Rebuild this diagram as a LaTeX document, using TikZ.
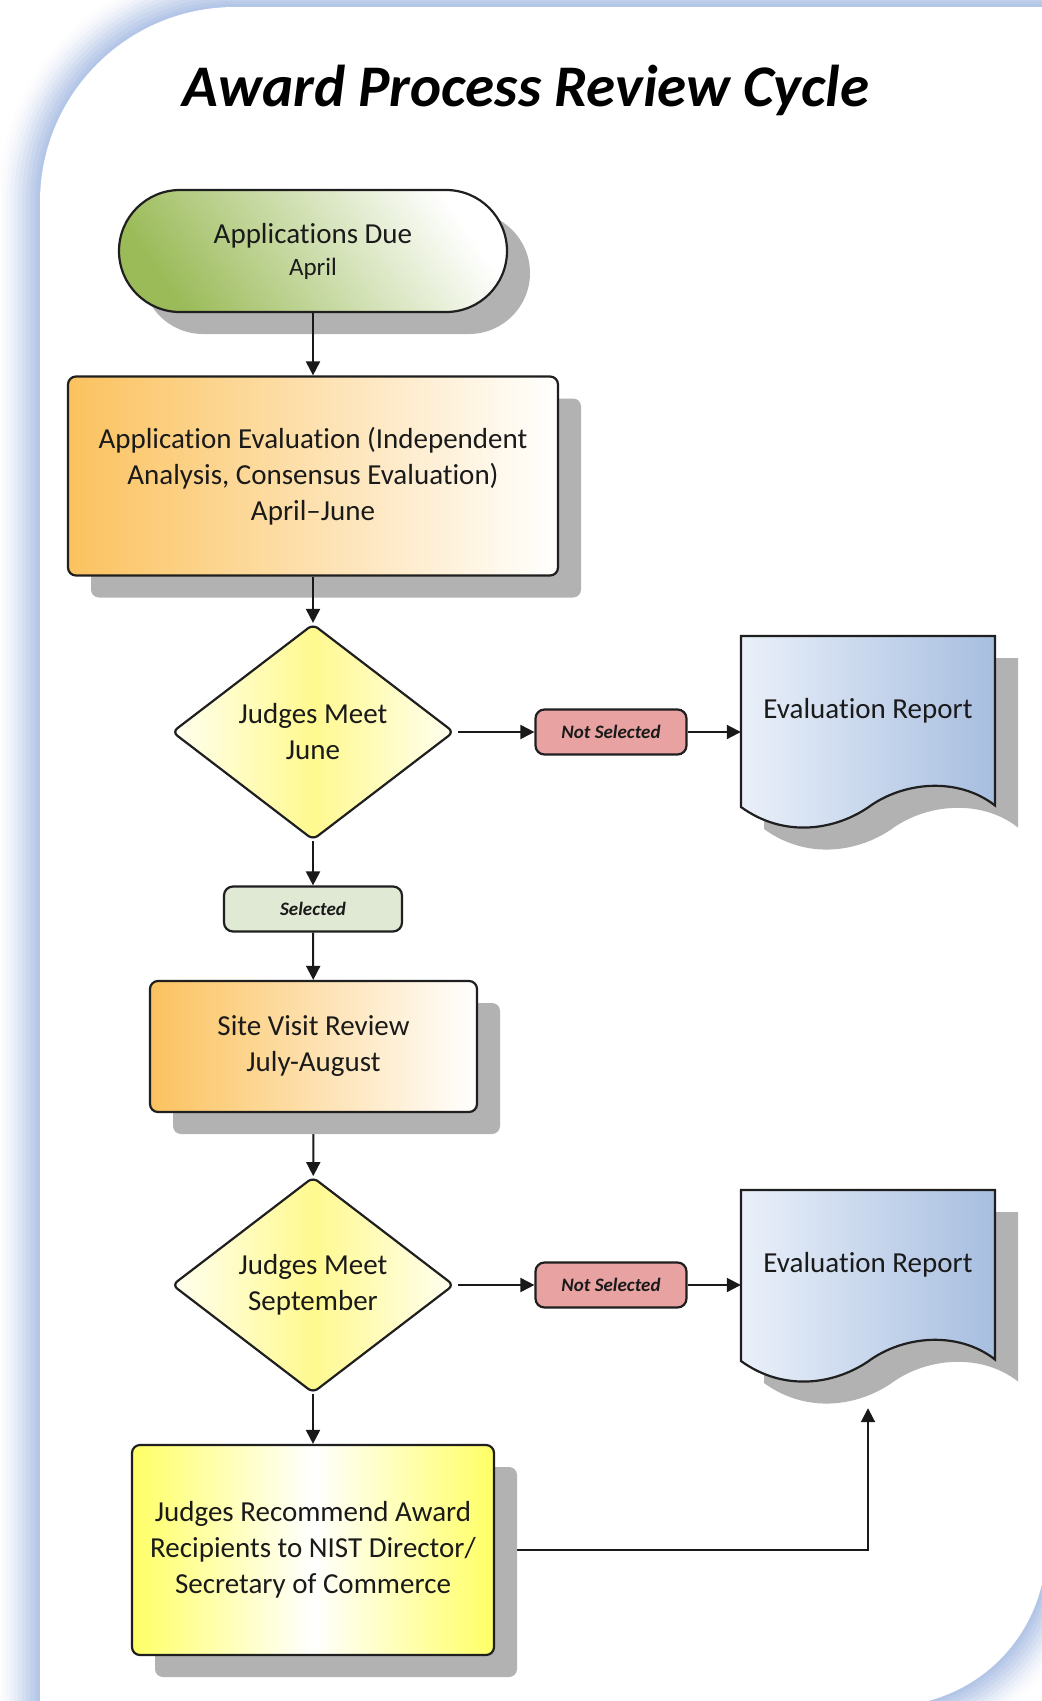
\documentclass[tikz,border=0pt]{standalone}
\usepackage{fontspec}
\setmainfont{Carlito}[Ligatures={NoCommon,NoRare}]
\usetikzlibrary{shapes.geometric,arrows.meta,shadows,calc}
\definecolor{glowblue}{HTML}{B4C6E7}
\definecolor{termgreen}{HTML}{9BBB59}
\definecolor{boxorange}{HTML}{FBC25E}
\definecolor{diayellow}{HTML}{FFF98F}
\definecolor{diaedge}{HTML}{FFFFF0}
\definecolor{recyellow}{HTML}{FFFF66}
\definecolor{docblue}{HTML}{A7BEE0}
\definecolor{doclight}{HTML}{EAF0F9}
\definecolor{nspink}{HTML}{E8A2A2}
\definecolor{selgreen}{HTML}{E0E9D3}
\definecolor{shadowgray}{HTML}{B2B2B2}
\definecolor{inkc}{HTML}{1A1A1A}
\pgfdeclarelayer{panel}
\pgfdeclarelayer{under}
\pgfdeclarelayer{docs}
\pgfsetlayers{panel,under,docs,main}
\tikzset{
  basefont/.style={font=\fontsize{29}{36}\selectfont},
  ink/.style={text=inkc},
  outline/.style={draw=black!88, line width=2.2pt},
  shad/.style={drop shadow={shadow xshift=23pt, shadow yshift=-22pt, fill=shadowgray, opacity=1}},
  terminal/.style={outline, shad, ink, basefont, rounded corners=61pt, minimum width=388pt, minimum height=122pt, align=center, inner sep=0pt, top color=white, bottom color=termgreen, shading angle=-55},
  process/.style={outline, shad, ink, basefont, rounded corners=8pt, align=center, inner sep=0pt, left color=boxorange, right color=white},
  decision/.style={diamond, aspect=1.3, outline, ink, basefont, rounded corners=6pt, minimum width=282pt, minimum height=216pt, inner sep=0pt, align=center, left color=diaedge, right color=diaedge, middle color=diayellow},
  recbox/.style={outline, shad, ink, basefont, rounded corners=8pt, align=center, inner sep=0pt, minimum width=362pt, minimum height=210pt, left color=recyellow, right color=recyellow, middle color=white},
  tag/.style={outline, ink, rounded corners=9pt, minimum width=151pt, minimum height=45pt, inner sep=0pt, font=\fontsize{19}{22}\selectfont\bfseries\itshape},
  doctext/.style={ink, basefont, minimum width=254pt, minimum height=171pt, inner sep=0pt, text height=20pt, text depth=26pt},
  docshape/.style={outline, left color=doclight, right color=docblue},
  docshadow/.style={fill=shadowgray},
  link/.style={draw=black!90, line width=2pt, -{Triangle[length=14pt,width=14pt]}},
}
\begin{document}
\begin{tikzpicture}[x=1pt,y=-1pt]
\useasboundingbox (0,0) rectangle (1042,1701);
\begin{pgfonlayer}{panel}
  \clip (0,0) rectangle (1042,1701);
  \fill[white] (0,0) rectangle (1042,1701);
  \foreach \w/\p in {84/3, 76/8, 68/15, 60/24, 52/34, 44/46, 36/58, 28/70, 20/82, 12/92, 6/100}{
    \draw[line width=\w pt, glowblue!\p!white] (40,1706) -- (40,202) arc[start angle=180,end angle=270,radius=195] -- (1046,7) -- (1046,1548) arc[start angle=0,end angle=90,radius=158] -- cycle;
  }
  \fill[white] (40,1706) -- (40,202) arc[start angle=180,end angle=270,radius=195] -- (1046,7) -- (1046,1548) arc[start angle=0,end angle=90,radius=158] -- cycle;
\end{pgfonlayer}

\node[font=\fontsize{59}{70}\selectfont\bfseries\itshape, text=black, anchor=base] (title) at (526,106) {Award Process Review Cycle};

\node[terminal] (due) at (313,251) {\rule{0pt}{3pt}Applications Due\\[-4pt]{\fontsize{25}{36}\selectfont April}};
\node[process, minimum width=490pt, minimum height=199pt] (eval) at (313,476) {Application Evaluation (Independent\\Analysis, Consensus Evaluation)\\April–June};
\node[decision] (meet1) at (313,732) {Judges Meet\\June};
\node[tag, fill=nspink] (ns1) at (611,732) {Not Selected};
\node[doctext] (rep1) at (868,721.5) {Evaluation Report};
\node[tag, fill=selgreen, minimum width=178pt] (sel) at (313,909) {Selected};
\node[process, minimum width=327pt, minimum height=131pt] (site) at (313.5,1046.5) {Site Visit Review\\July-August};
\node[decision] (meet2) at (313,1285) {Judges Meet\\September};
\node[tag, fill=nspink] (ns2) at (611,1285) {Not Selected};
\node[doctext] (rep2) at (868,1275.5) {Evaluation Report};
\node[recbox] (rec) at (313,1550) {Judges Recommend Award\\Recipients to NIST Director/\\Secretary of Commerce};

\begin{pgfonlayer}{docs}
  \foreach \d in {rep1,rep2}{
    \fill[docshadow, shift={(\d.center)}, xshift=23pt, yshift=-22pt] (-127,-85.5) -- (127,-85.5) -- (127,84) .. controls (90,55) and (35,60) .. (0,86) .. controls (-35,109.5) and (-85,116) .. (-127,85.5) -- cycle;
    \draw[docshape, shift={(\d.center)}] (-127,-85.5) -- (127,-85.5) -- (127,84) .. controls (90,55) and (35,60) .. (0,86) .. controls (-35,109.5) and (-85,116) .. (-127,85.5) -- cycle;
  }
\end{pgfonlayer}

\draw[link] (due) -- (eval);
\draw[link] (eval) -- (meet1);
\draw[link, shorten <=3pt] (meet1.east) -- (ns1.west);
\draw[link] (ns1.east) -- (ns1.east -| rep1.west);
\draw[link] (meet1) -- (sel);
\draw[link] (sel) -- (site);
\draw[link, shorten <=3pt] (meet2.east) -- (ns2.west);
\draw[link] (ns2.east) -- (ns2.east -| rep2.west);
\draw[link] (meet2) -- (rec);
\begin{pgfonlayer}{under}
  \draw[link] (site) -- (meet2);
  \draw[link] (rec.east) -| ([yshift=-47pt]rep2.south);
\end{pgfonlayer}
\end{tikzpicture}
\end{document}
